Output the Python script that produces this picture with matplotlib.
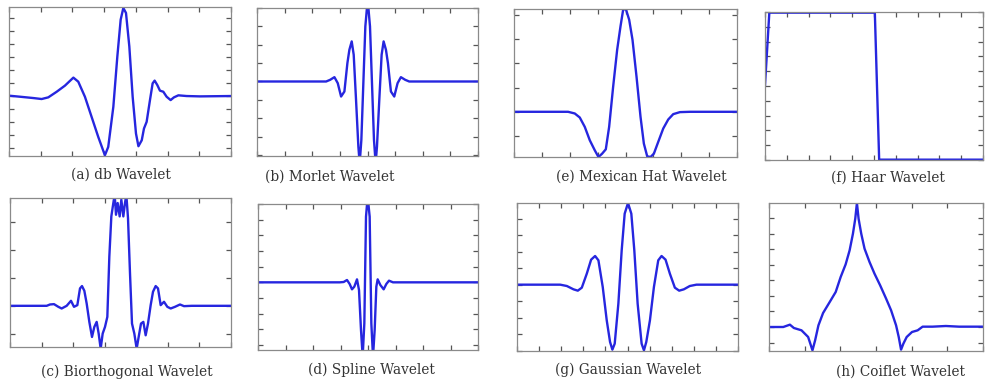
import numpy as np
import matplotlib
matplotlib.use("Agg")
import matplotlib.pyplot as plt

# ---------------- data ----------------
# (a) db wavelet: x in % of window, y amplitude (peak = 1)
DB_X = [0, 5.0, 11.0, 14.7, 17.7, 21.5, 25.2, 29.0, 31.2, 34.2, 37.2, 40.2, 43.2, 44.7,
        47.0, 48.8, 50.3, 51.5, 52.7, 54.2, 55.7, 57.2, 58.3, 59.8, 60.8, 62.0, 63.5,
        64.7, 65.6, 66.8, 68.0, 69.5, 71.0, 72.8, 74.3, 76.3, 80.0, 86.0, 100]
DB_Y = [0.004, -0.008, -0.023, -0.034, -0.015, 0.049, 0.118, 0.209, 0.163, -0.008,
        -0.236, -0.464, -0.673, -0.578, -0.122, 0.449, 0.867, 1.0, 0.943, 0.563,
        -0.008, -0.426, -0.570, -0.502, -0.369, -0.293, -0.046, 0.144, 0.175, 0.125,
        0.061, 0.049, -0.008, -0.046, -0.015, 0.008, 0.0, -0.004, 0.0]

# (b) Morlet wavelet
MORLET_X = [0, 150, 208, 220, 233, 243, 253, 263, 272, 278, 285, 291, 298, 305, 309, 314,
            320, 326, 333, 340, 346, 352, 357, 361, 368, 375, 381, 388, 394, 403, 413,
            423, 433, 446, 458, 515, 665]
MORLET_Y = [223, 223, 223, 228, 236, 218, 178, 193, 278, 318, 343, 303, 168, 28, -22, 48,
            218, 388, 468, 388, 218, 48, -22, 28, 168, 303, 343, 318, 278, 193, 178,
            218, 236, 228, 223, 223, 223]

# (c) Biorthogonal wavelet
BIOR_X = [0, 110, 120, 132, 145, 155, 170, 183, 192, 202, 210, 216, 223, 230, 238, 246,
          253, 260, 266, 272, 278, 285, 292, 298, 304, 310, 314, 318, 323, 329, 334, 340,
          345, 349, 354, 360, 366, 373, 380, 386, 393, 400, 407, 414, 422, 429, 437, 444,
          452, 462, 472, 482, 495, 510, 522, 545, 663]
BIOR_Y = [123, 123, 127, 128, 120, 115, 123, 138, 120, 125, 175, 182, 168, 130, 75, 30,
          60, 75, 40, -5, 40, 60, 90, 270, 390, 430, 455, 395, 430, 390, 440, 390,
          430, 455, 385, 220, 70, 40, -5, 30, 70, 75, 35, 70, 125, 165, 182, 175,
          125, 135, 120, 115, 120, 127, 122, 123, 123]

# (d) Spline wavelet
SPLINE_X = [0, 245, 257, 267, 275, 282, 289, 297, 303, 309, 314, 319, 324, 329, 335, 340,
            345, 350, 355, 359, 367, 377, 385, 393, 405, 660]
SPLINE_Y = [203, 203, 204, 210, 198, 182, 190, 212, 180, 60, -20, 80, 400, 460, 400, 80,
            -20, 60, 190, 212, 195, 182, 198, 208, 203, 203]

# (e) Mexican hat wavelet
MEXH_X = [0, 162, 182, 197, 212, 227, 242, 253, 264, 275, 285, 297, 309, 319, 327, 335,
          345, 355, 367, 379, 389, 399, 409, 419, 432, 447, 462, 477, 497, 527, 668]
MEXH_Y = [135, 135, 130, 118, 90, 50, 20, 0, 10, 23, 90, 210, 320, 390, 440, 442,
          410, 350, 240, 120, 40, 2, 0, 10, 45, 85, 112, 128, 134, 135, 135]

# (f) Haar wavelet
HAAR_X = [0, 13, 330, 343, 660]
HAAR_Y = [225, 443, 443, 1, 1]

# (g) Gaussian wavelet
GAUS_X = [0, 130, 150, 170, 183, 195, 210, 223, 235, 245, 258, 270, 280, 287, 294, 305,
          315, 324, 334, 344, 353, 363, 375, 382, 389, 400, 412, 425, 435, 447, 460, 475,
          488, 502, 520, 540, 665]
GAUS_Y = [199, 199, 195, 185, 181, 190, 232, 274, 285, 272, 192, 92, 27, 4, 22, 142,
          302, 412, 444, 412, 302, 142, 22, 2, 27, 92, 192, 272, 285, 274, 232, 190,
          181, 185, 195, 199, 199]

# (h) Coiflet wavelet
COIF_X = [0, 43, 63, 75, 98, 118, 131, 139, 149, 163, 183, 201, 216, 231, 243, 253, 260,
          265, 270, 278, 288, 303, 318, 335, 353, 368, 383, 391, 398, 405, 415, 431, 448,
          463, 493, 533, 573, 648]
COIF_Y = [72, 72, 79, 69, 62, 42, 2, 32, 77, 114, 147, 177, 222, 260, 302, 352, 397,
          444, 397, 352, 307, 267, 232, 197, 157, 122, 77, 42, 4, 22, 42, 57, 62,
          73, 73, 75, 73, 73]

LABELS = ["(a) db Wavelet", "(b) Morlet Wavelet", "(e) Mexican Hat Wavelet", "(f) Haar Wavelet",
          "(c) Biorthogonal Wavelet", "(d) Spline Wavelet", "(g) Gaussian Wavelet",
          "(h) Coiflet Wavelet"]

# ---------------- layout ----------------
W, H = 985, 380
fig = plt.figure(figsize=(W / 100, H / 100), dpi=100)
fig.patch.set_facecolor("white")

LINE = "#2626df"
FRAME = "#8a8a8a"

# (series x, series y, axes box in px l,t,r,b, xlim, ylim, n x-intervals, y anchor, y step, label xy)
panels = [
    (DB_X, DB_Y, (9, 7, 231, 156), (0, 100), (-0.681, 1.011), 7, 0.0, 0.147, (121, 175)),
    (MORLET_X, MORLET_Y, (257, 8, 478, 156), (0, 665), (0, 443), 8, 223, 55, (330, 177)),
    (MEXH_X, MEXH_Y, (514, 9, 737, 157), (0, 668), (0, 442), 8, 135, 72.5, (641, 177)),
    (HAAR_X, HAAR_Y, (765, 12, 983, 160), (0, 655), (0, 445), 10, 0, 44.5, (888, 178)),
    (BIOR_X, BIOR_Y, (10, 198, 231, 347), (0, 663), (0, 445), 7, 123, 83, (127, 372)),
    (SPLINE_X, SPLINE_Y, (258, 204, 478, 350), (0, 660), (0, 438), 8, 203, 47, (371, 370)),
    (GAUS_X, GAUS_Y, (517, 203, 738, 351), (0, 665), (0, 444), 10, 199, 49.5, (628, 370)),
    (COIF_X, COIF_Y, (769, 203, 983, 351), (0, 645), (0, 444), 6, 72, 46.7, (900, 372)),
]

for (xs, ys, box, xl, yl, nx, y0, dy, lab), label in zip(panels, LABELS):
    l, t, r, b = box
    ax = fig.add_axes([l / W, 1 - b / H, (r - l) / W, (b - t) / H])
    ax.plot(xs, ys, color=LINE, lw=1.7, solid_joinstyle="round")
    ax.set_xlim(*xl)
    ax.set_ylim(*yl)
    ax.set_xticks(np.arange(xl[0], xl[1] + 1e-9, (xl[1] - xl[0]) / nx))
    k0 = int(np.ceil((yl[0] - y0) / dy))
    k1 = int(np.floor((yl[1] - y0) / dy))
    ax.set_yticks([y0 + k * dy for k in range(k0, k1 + 1)])
    ax.tick_params(direction="in", length=3.5, width=0.9, color="#555555",
                   top=True, right=True, labelbottom=False, labelleft=False)
    for s in ax.spines.values():
        s.set_color(FRAME)
        s.set_linewidth(0.9)
    fig.text(lab[0] / W, 1 - lab[1] / H, label, ha="center", va="center",
             fontsize=9.8, family="DejaVu Serif", color="#333333")

fig.savefig("out.png", dpi=100, facecolor="white")
